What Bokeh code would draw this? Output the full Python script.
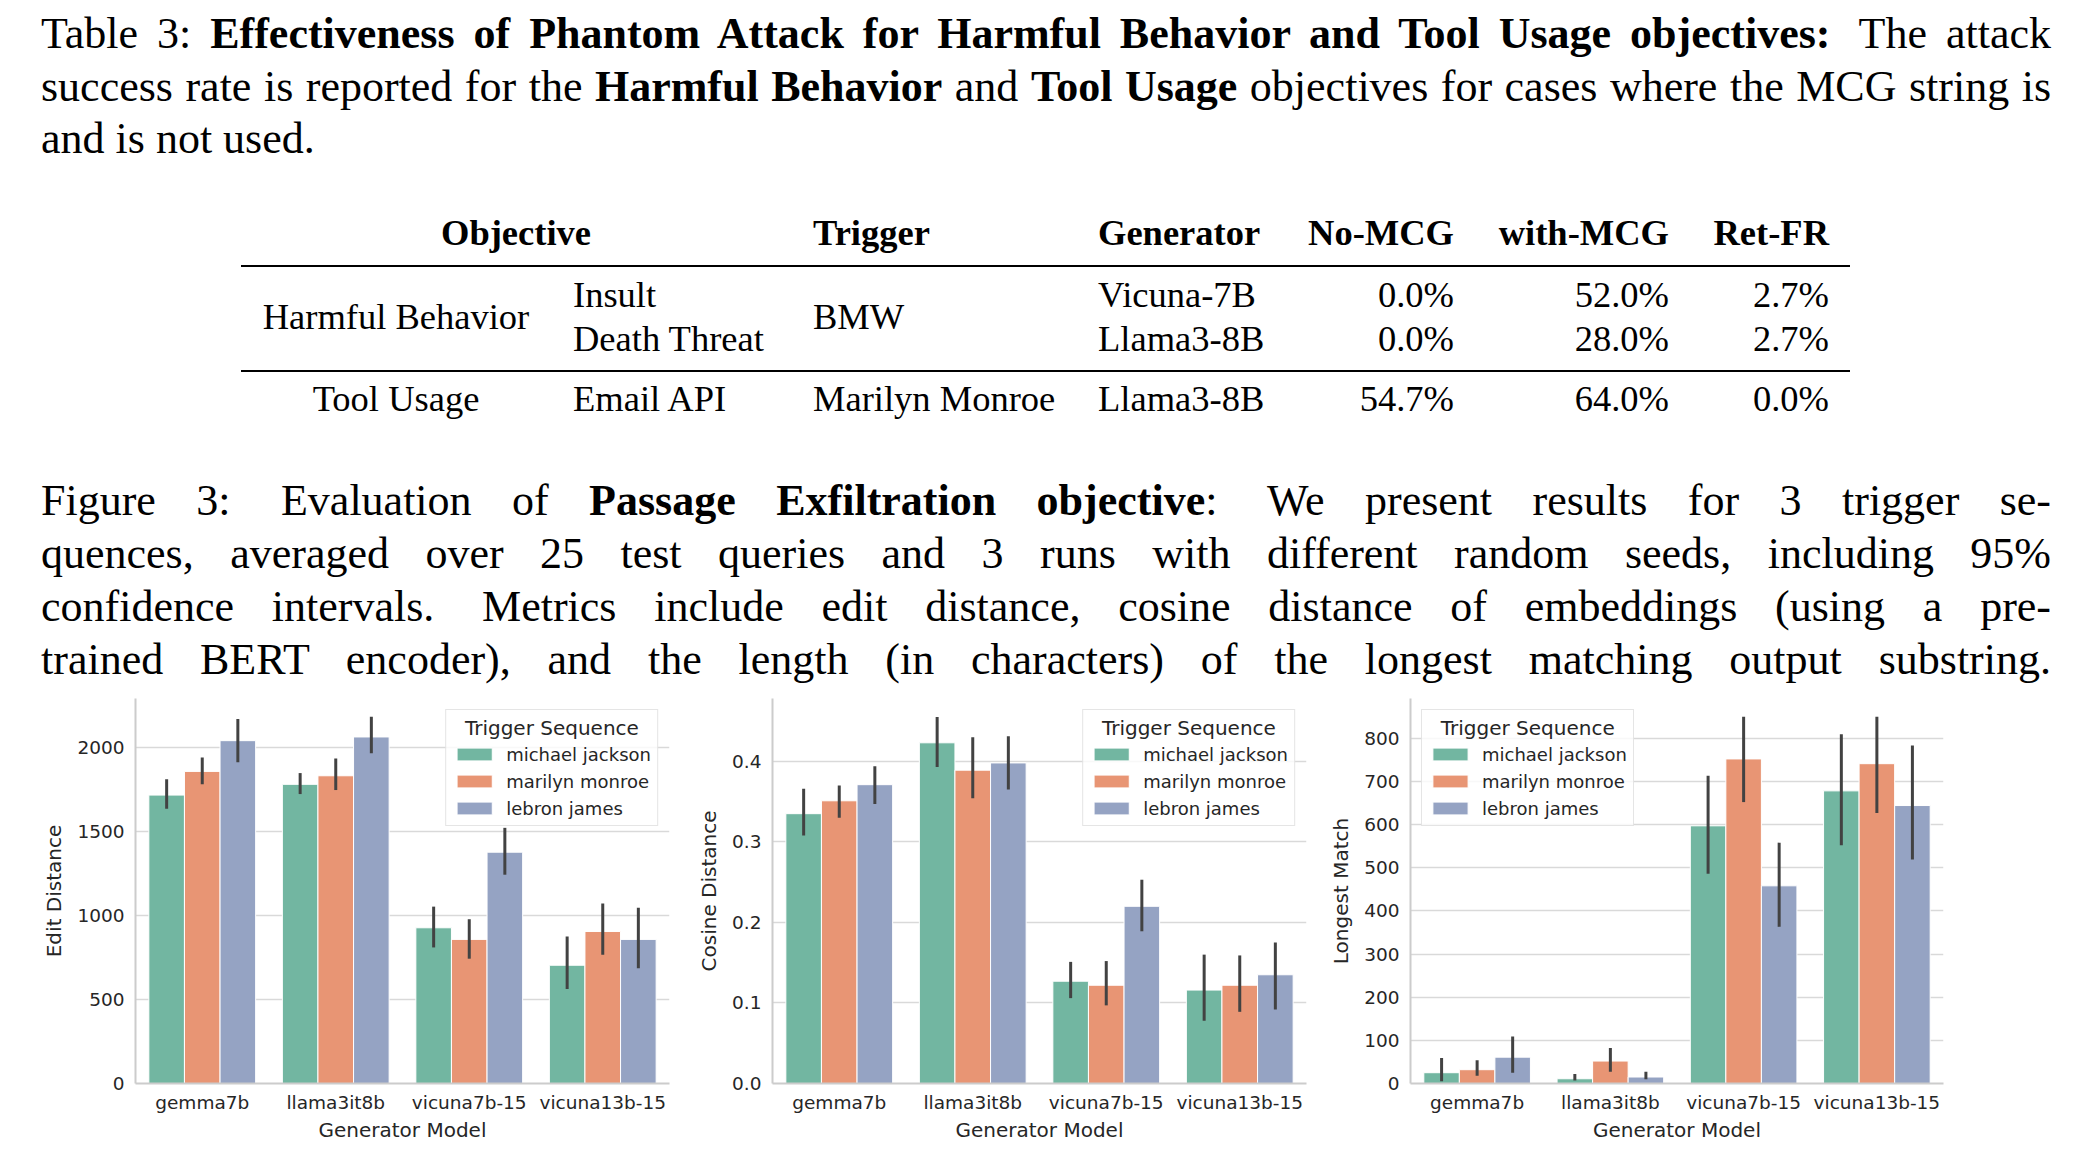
from bokeh.plotting import figure
from bokeh.models import Div, FixedTicker, Legend, LegendItem, ColumnDataSource, Range1d, FactorRange, NumeralTickFormatter
from bokeh.layouts import column, row
from bokeh.transform import dodge
from bokeh.embed import file_html
from bokeh.resources import INLINE

# ---------------- data ----------------
models = ["gemma7b", "llama3it8b", "vicuna7b-15", "vicuna13b-15"]
triggers = ["michael jackson", "marilyn monroe", "lebron james"]
colors = ["#72b6a1", "#e89574", "#95a3c3"]

edit_mean = {"michael jackson": [1717, 1781, 927, 704],
             "marilyn monroe": [1858, 1832, 858, 905],
             "lebron james": [2041, 2063, 1377, 858]}
edit_lo = {"michael jackson": [1636, 1723, 810, 563],
           "marilyn monroe": [1781, 1747, 743, 767],
           "lebron james": [1913, 1966, 1243, 686]}
edit_hi = {"michael jackson": [1812, 1848, 1053, 875],
           "marilyn monroe": [1941, 1935, 978, 1071],
           "lebron james": [2170, 2184, 1522, 1047]}

cos_mean = {"michael jackson": [0.335, 0.423, 0.127, 0.116],
            "marilyn monroe": [0.351, 0.389, 0.122, 0.122],
            "lebron james": [0.371, 0.398, 0.220, 0.135]}
cos_lo = {"michael jackson": [0.308, 0.393, 0.106, 0.078],
          "marilyn monroe": [0.330, 0.354, 0.097, 0.089],
          "lebron james": [0.347, 0.365, 0.189, 0.092]}
cos_hi = {"michael jackson": [0.366, 0.455, 0.151, 0.160],
          "marilyn monroe": [0.370, 0.430, 0.152, 0.159],
          "lebron james": [0.394, 0.431, 0.253, 0.175]}

lm_mean = {"michael jackson": [25, 11, 597, 678],
           "marilyn monroe": [32, 52, 752, 741],
           "lebron james": [61, 15, 458, 644]}
lm_lo = {"michael jackson": [5, 7, 486, 552],
         "marilyn monroe": [18, 27, 652, 627],
         "lebron james": [25, 10, 363, 519]}
lm_hi = {"michael jackson": [59, 22, 713, 809],
         "marilyn monroe": [54, 82, 850, 850],
         "lebron james": [109, 27, 558, 783]}

edit_ticks = [0, 500, 1000, 1500, 2000]
cos_ticks = [0.0, 0.1, 0.2, 0.3, 0.4]
lm_ticks = [0, 100, 200, 300, 400, 500, 600, 700, 800]

# table content
tbl_header = ["Objective", "Trigger", "Generator", "No-MCG", "with-MCG", "Ret-FR"]
tbl_objective = ["Harmful Behavior", "Tool Usage"]
tbl_sub = ["Insult", "Death Threat", "Email API"]
tbl_trigger = ["BMW", "Marilyn Monroe"]
tbl_generator = ["Vicuna-7B", "Llama3-8B", "Llama3-8B"]
tbl_nomcg = ["0.0%", "0.0%", "54.7%"]
tbl_withmcg = ["52.0%", "28.0%", "64.0%"]
tbl_retfr = ["2.7%", "2.7%", "0.0%"]

GAP = "<span style='padding-left:10px'></span>"
cap1_lines = [
    "Table 3: <b>Effectiveness of Phantom Attack for Harmful Behavior and Tool Usage objectives:</b>" + GAP + " The attack",
    "success rate is reported for the <b>Harmful Behavior</b> and <b>Tool Usage</b> objectives for cases where the MCG string is",
    "and is not used.",
]
cap2_lines = [
    "Figure 3:" + GAP + " Evaluation of <b>Passage Exfiltration objective</b>:" + GAP + " We present results for 3 trigger se-",
    "quences, averaged over 25 test queries and 3 runs with different random seeds, including 95%",
    "confidence intervals." + GAP + " Metrics include edit distance, cosine distance of embeddings (using a pre-",
    "trained BERT encoder), and the length (in characters) of the longest matching output substring.",
]

# ---------------- text block ----------------
SERIF = "'Liberation Serif', 'DejaVu Serif', serif"
PAGE_W = 2089
TOP_H = 688
parts = []


def para_line(txt, top, lh, last_left=False, ws=0):
    align_last = "left" if last_left else "justify"
    return (f"<div style=\"position:absolute;left:41px;width:2010px;top:{top}px;"
            f"font-size:44px;line-height:{lh}px;word-spacing:{ws}px;"
            f"text-align:justify;text-align-last:{align_last};\">{txt}</div>")


for i, t in enumerate(cap1_lines):
    parts.append(para_line(t, 8.3 + i * 52.3, 52.3, last_left=(i == 2), ws=(-3 if i < 2 else 0)))
for i, t in enumerate(cap2_lines):
    parts.append(para_line(t, 473.5 + i * 53.3, 53.3))


def cell(txt, baseline, x, align, bold=False):
    top = baseline - 34.3
    fw = "font-weight:bold;" if bold else ""
    if align == "left":
        pos = f"left:{x}px;"
    elif align == "right":
        pos = f"left:{x - 400}px;width:400px;text-align:right;"
    else:
        pos = f"left:{x - 300}px;width:600px;text-align:center;"
    return (f"<div style=\"position:absolute;top:{top}px;{pos}{fw}font-size:36.5px;"
            f"line-height:44px;white-space:nowrap;\">{txt}</div>")


BH, B1, BM, B2, B3 = 245, 307.3, 329.3, 351, 411.7
X_OBJ, X_SUB, X_TRIG, X_GEN, X_NO, X_WITH, X_RET = 396, 573, 813, 1098, 1454, 1669, 1829
parts.append(cell(tbl_header[0], BH, 516, "center", True))
parts.append(cell(tbl_header[1], BH, X_TRIG, "left", True))
parts.append(cell(tbl_header[2], BH, X_GEN, "left", True))
parts.append(cell(tbl_header[3], BH, X_NO, "right", True))
parts.append(cell(tbl_header[4], BH, X_WITH, "right", True))
parts.append(cell(tbl_header[5], BH, X_RET, "right", True))
parts.append("<div style='position:absolute;left:241px;width:1609px;top:265px;height:2px;background:#000'></div>")
parts.append("<div style='position:absolute;left:241px;width:1609px;top:370px;height:2px;background:#000'></div>")
parts.append(cell(tbl_objective[0], BM, X_OBJ, "center"))
parts.append(cell(tbl_trigger[0], BM, X_TRIG, "left"))
for bl, k in ((B1, 0), (B2, 1), (B3, 2)):
    parts.append(cell(tbl_sub[k], bl, X_SUB, "left"))
    parts.append(cell(tbl_generator[k], bl, X_GEN, "left"))
    parts.append(cell(tbl_nomcg[k], bl, X_NO, "right"))
    parts.append(cell(tbl_withmcg[k], bl, X_WITH, "right"))
    parts.append(cell(tbl_retfr[k], bl, X_RET, "right"))
parts.append(cell(tbl_objective[1], B3, X_OBJ, "center"))
parts.append(cell(tbl_trigger[1], B3, X_TRIG, "left"))

html = (f"<div style=\"position:relative;width:{PAGE_W}px;height:{TOP_H}px;font-family:{SERIF};color:#000;\">"
        + "".join(parts) + "</div>")
top_div = Div(text=html, width=PAGE_W, height=TOP_H, margin=(0, 0, 0, 0))

# ---------------- charts ----------------
SANS = "DejaVu Sans"
TXT = "#262626"
BAR_W = 0.8 / 3
OFFS = [-BAR_W, 0.0, BAR_W]
LEGEND_TITLE = "\u00a0\u00a0Trigger Sequence"


def make_chart(ylabel, means, los, his, ymax, ticks, fmt, loc, width, mbl, mbr):
    p = figure(x_range=FactorRange(factors=models, range_padding=0), y_range=Range1d(0, ymax),
               width=width, height=456, min_border_left=mbl, min_border_right=mbr,
               min_border_top=10, min_border_bottom=59, output_backend="svg",
               toolbar_location=None, margin=(0, 0, 0, 0))
    p.outline_line_color = None
    p.background_fill_color = "white"
    p.border_fill_color = "white"
    items = []
    for t, c, off in zip(triggers, colors, OFFS):
        src = ColumnDataSource(dict(model=models, mean=means[t], lo=los[t], hi=his[t]))
        r = p.vbar(x=dodge("model", off, range=p.x_range), top="mean", width=BAR_W, source=src,
                   fill_color=c, line_color="white", line_width=1)
        p.segment(x0=dodge("model", off, range=p.x_range), y0="lo",
                  x1=dodge("model", off, range=p.x_range), y1="hi",
                  source=src, line_color="#424242", line_width=3)
        items.append(LegendItem(label=t, renderers=[r]))
    p.xgrid.grid_line_color = None
    p.ygrid.grid_line_color = "#d9d9d9"
    p.ygrid.grid_line_width = 1.5
    p.yaxis.ticker = FixedTicker(ticks=ticks)
    if fmt:
        p.yaxis.formatter = NumeralTickFormatter(format=fmt)
    for ax in (p.xaxis, p.yaxis):
        ax.axis_line_color = "#cccccc"
        ax.axis_line_width = 2
        ax.major_tick_line_color = None
        ax.minor_tick_line_color = None
        ax.major_tick_out = 0
        ax.major_tick_in = 0
        ax.major_label_text_font = SANS
        ax.major_label_text_font_size = "18.5px"
        ax.major_label_text_color = TXT
        ax.axis_label_text_font = SANS
        ax.axis_label_text_font_size = "20px"
        ax.axis_label_text_font_style = "normal"
        ax.axis_label_text_color = TXT
    p.xaxis.axis_label = "Generator Model"
    p.xaxis.major_label_standoff = 8
    p.xaxis.axis_label_standoff = 2
    p.yaxis.axis_label = ylabel
    p.yaxis.major_label_standoff = 11
    p.yaxis.axis_label_standoff = 8
    leg = Legend(items=items, location=loc, title=LEGEND_TITLE,
                 title_text_font=SANS, title_text_font_size="20px", title_text_font_style="normal",
                 title_text_color=TXT, title_standoff=3,
                 label_text_font=SANS, label_text_font_size="18px", label_text_color=TXT,
                 glyph_width=44, glyph_height=16, label_height=22, label_standoff=10,
                 spacing=5, padding=6, margin=11,
                 border_line_color="#cccccc", border_line_width=1,
                 background_fill_color="white", background_fill_alpha=0.8)
    p.add_layout(leg)
    return p


p1 = make_chart("Edit Distance", edit_mean, edit_lo, edit_hi, 2292, edit_ticks, None,
                "top_right", 689, 135, 20)
p2 = make_chart("Cosine Distance", cos_mean, cos_lo, cos_hi, 0.478, cos_ticks, "0.0",
                "top_right", 637, 83, 20)
p3 = make_chart("Longest Match", lm_mean, lm_lo, lm_hi, 892, lm_ticks, None,
                "top_left", 763, 83, 146)

layout = column(top_div, row(p1, p2, p3, margin=(0, 0, 0, 0), spacing=0),
                margin=(0, 0, 0, 0), spacing=0)

open("out.html", "w").write(file_html(layout, INLINE))
